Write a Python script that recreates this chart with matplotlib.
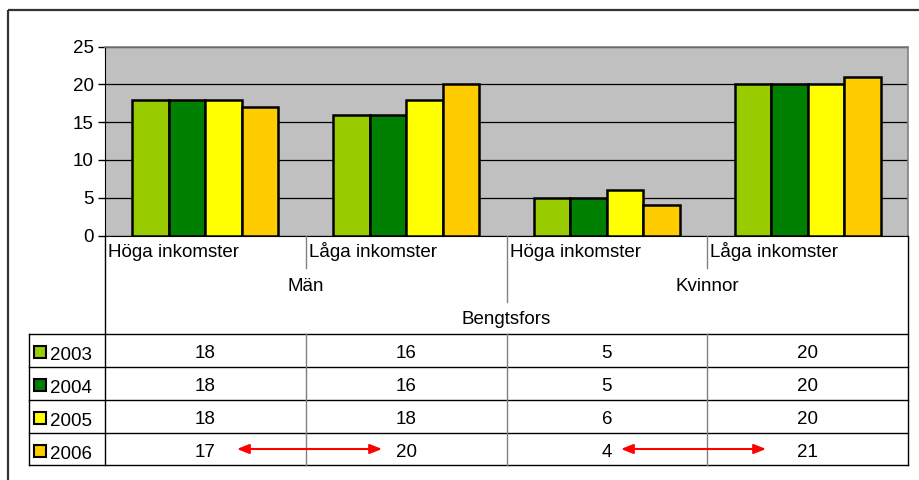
import matplotlib
matplotlib.use("Agg")
import matplotlib.pyplot as plt
from matplotlib.patches import Rectangle

plt.rcParams['font.family'] = ['Liberation Sans', 'DejaVu Sans']

# ---- data ----
categories = ["Höga inkomster", "Låga inkomster", "Höga inkomster", "Låga inkomster"]
groups = ["Män", "Kvinnor"]
region = "Bengtsfors"
years = ["2003", "2004", "2005", "2006"]
v2003 = [18, 16, 5, 20]
v2004 = [18, 16, 5, 20]
v2005 = [18, 18, 6, 20]
v2006 = [17, 20, 4, 21]
series = [v2003, v2004, v2005, v2006]
colors = ["#99CC00", "#008000", "#FFFF00", "#FFCC00"]
yticks = [0, 5, 10, 15, 20, 25]

W, H = 919, 480
fig = plt.figure(figsize=(W / 100, H / 100), dpi=100)
fs = 13.5

# plot area in pixel coordinates
L, R, T, B = 105, 908, 46.7, 235.5
ax = fig.add_axes([L / W, 1 - B / H, (R - L) / W, (B - T) / H])
ax.set_facecolor("#C0C0C0")
n = len(categories)
bw = 1 / 5.5
for j, (vals, c) in enumerate(zip(series, colors)):
    xs = [i + 0.5 + (j - 1.5) * bw for i in range(n)]
    ax.bar(xs, vals, width=bw, color=c, edgecolor="black", linewidth=1.8, zorder=3)
ax.set_xlim(0, n)
ax.set_ylim(0, 25)
ax.set_yticks(yticks)
ax.set_yticklabels([str(t) for t in yticks], fontsize=fs)
ax.set_xticks([])
ax.yaxis.grid(True, color="black", linewidth=0.9, zorder=1)
ax.set_axisbelow(True)
ax.tick_params(axis="y", direction="out", length=5, width=1, pad=3)
for s in ["top", "right"]:
    ax.spines[s].set_color("#808080")
    ax.spines[s].set_linewidth(1.2)
ax.spines["left"].set_color("black")
ax.spines["bottom"].set_color("black")

# overlay in pixel coords
ov = fig.add_axes([0, 0, 1, 1], zorder=5)
ov.set_xlim(0, W)
ov.set_ylim(H, 0)
ov.axis("off")
ov.patch.set_alpha(0)

# outer frame
ov.add_patch(Rectangle((8, 10), 940, 500, fill=False, edgecolor="#333333", linewidth=1.6))

colw = (R - L) / n
xb = [L + k * colw for k in range(n + 1)]
rows_y = [334, 367, 400, 433, 465]

# category header area
ov.plot([L, L], [B, rows_y[-1]], color="black", lw=1)
ov.plot([R, R], [B, rows_y[-1]], color="black", lw=1)
for k, x in enumerate(xb[1:-1], start=1):
    if k == 2:
        ov.plot([x, x], [B, 302], color="#808080", lw=1)
    else:
        ov.plot([x, x], [B, 268], color="#808080", lw=1)
for i, cat in enumerate(categories):
    ov.text(xb[i] + 3, 257.3, cat, fontsize=fs, ha="left", va="baseline")
for g, name in enumerate(groups):
    ov.text(xb[2 * g + 1], 291, name, fontsize=fs, ha="center", va="baseline")
ov.text(xb[2], 324, region, fontsize=fs, ha="center", va="baseline")

# data table
TL = 29
for y in rows_y:
    ov.plot([TL, R], [y, y], color="black", lw=1)
ov.plot([TL, TL], [rows_y[0], rows_y[-1]], color="black", lw=1)
for x in xb[1:-1]:
    ov.plot([x, x], [rows_y[0], rows_y[-1]], color="#808080", lw=1)
for r, (yr, vals, c) in enumerate(zip(years, series, colors)):
    top = rows_y[r]
    ov.add_patch(Rectangle((34, top + 12), 11.5, 11.5, facecolor=c, edgecolor="black", lw=1.5))
    ov.text(50, top + 26, yr, fontsize=fs, ha="left", va="baseline")
    for i, v in enumerate(vals):
        ov.text((xb[i] + xb[i + 1]) / 2, top + 23.7, str(v), fontsize=fs,
                ha="center", va="baseline")

# red arrows in 2006 row
ya = 449
for x0, x1 in [(237, 382), (621, 766)]:
    ov.annotate("", xy=(x1, ya), xytext=(x0, ya),
                arrowprops=dict(arrowstyle="<|-|>,head_length=0.4,head_width=0.16",
                                color="red", lw=1.5,
                                mutation_scale=18, shrinkA=0, shrinkB=0))

fig.savefig("out.png", dpi=100)
